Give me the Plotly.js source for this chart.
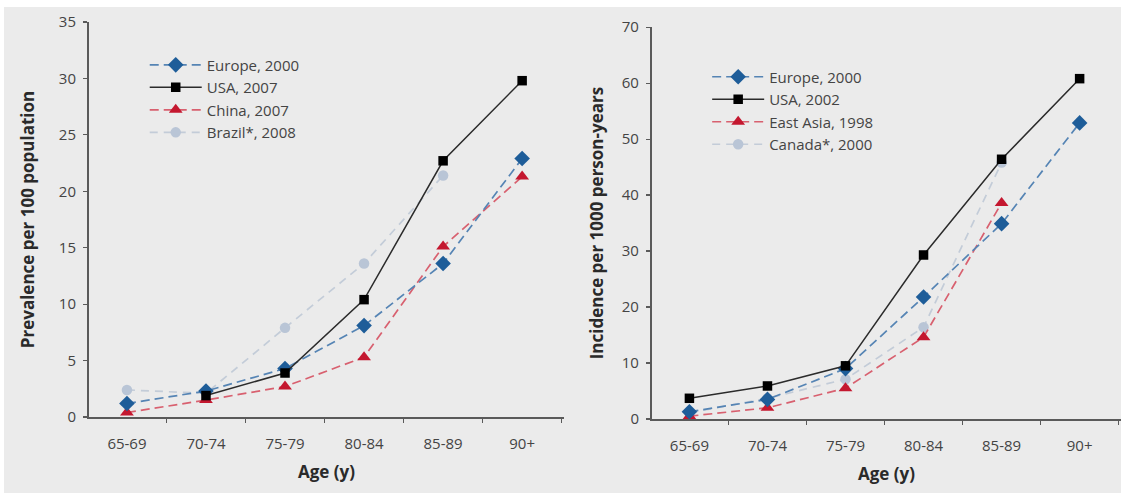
<!DOCTYPE html>
<html>
<head>
<meta charset="utf-8">
<script src="https://cdn.plot.ly/plotly-3.0.1.min.js"></script>
<style>
html,body{margin:0;padding:0;background:#ffffff;}
#chart{position:absolute;left:4px;top:7px;width:1117px;height:486px;}
</style>
</head>
<body>
<div id="chart"></div>
<script>
// Categories
var ageGroups = ["65-69", "70-74", "75-79", "80-84", "85-89", "90+"];

// Left panel: prevalence per 100 population
var prevEurope2000 = [1.2, 2.3, 4.3, 8.1, 13.6, 22.9];
var prevUSA2007    = [null, 1.9, 3.9, 10.4, 22.7, 29.8];
var prevChina2007  = [0.4, 1.5, 2.7, 5.3, 15.1, 21.3];
var prevBrazil2008 = [2.4, 2.1, 7.9, 13.6, 21.4, null];

// Right panel: incidence per 1000 person-years
var incEurope2000   = [1.3, 3.5, 9.0, 21.8, 34.9, 52.9];
var incUSA2002      = [3.7, 5.9, 9.5, 29.3, 46.4, 60.8];
var incEastAsia1998 = [0.5, 2.0, 5.5, 14.6, 38.6, null];
var incCanada2000   = [1.1, 3.7, 7.1, 16.4, 45.8, null];

var leftNames  = ["Europe, 2000", "USA, 2007", "China, 2007", "Brazil*, 2008"];
var rightNames = ["Europe, 2000", "USA, 2002", "East Asia, 1998", "Canada*, 2000"];

var styles = {
  europe: {line: {color: "#5584b4", width: 1.7, dash: "9px,5px"}, marker: {symbol: "diamond", size: 12, color: "#1e5d99"}},
  usa:    {line: {color: "#2b2b2b", width: 1.5, dash: "solid"}, marker: {symbol: "square", size: 9.5, color: "#000000"}},
  red:    {line: {color: "#d8606f", width: 1.7, dash: "9px,5px"}, marker: {symbol: "triangle-up", size: 12, color: "#c4172f"}},
  light:  {line: {color: "#c3ccd8", width: 1.7, dash: "8px,6px"}, marker: {symbol: "circle", size: 10.5, color: "#b9c5d6"}}
};

function tr(y, name, st, xa, ya, lg, rank) {
  return {
    x: ageGroups, y: y, name: name, type: "scatter", mode: "lines+markers",
    line: st.line, marker: st.marker, xaxis: xa, yaxis: ya, legend: lg,
    legendrank: rank, connectgaps: false, cliponaxis: false
  };
}

var data = [
  tr(prevBrazil2008, leftNames[3], styles.light, "x", "y", "legend", 4),
  tr(prevChina2007,  leftNames[2], styles.red,   "x", "y", "legend", 3),
  tr(prevEurope2000, leftNames[0], styles.europe,"x", "y", "legend", 1),
  tr(prevUSA2007,    leftNames[1], styles.usa,   "x", "y", "legend", 2),
  tr(incCanada2000,   rightNames[3], styles.light, "x2", "y2", "legend2", 4),
  tr(incEastAsia1998, rightNames[2], styles.red,   "x2", "y2", "legend2", 3),
  tr(incEurope2000,   rightNames[0], styles.europe,"x2", "y2", "legend2", 1),
  tr(incUSA2002,      rightNames[1], styles.usa,   "x2", "y2", "legend2", 2)
];

var tickFont = {family: "Open Sans, sans-serif", size: 15, color: "#444444"};
var titleFont = {family: "Open Sans, sans-serif", size: 17, color: "#2a2a2a", weight: "bold"};
var ytitleFont = {family: "Open Sans, sans-serif", size: 17, color: "#2a2a2a", weight: "bold"};

function xax(domain, anchor) {
  return {
    domain: domain, anchor: anchor, type: "category", range: [-0.48, 5.53],
    showline: true, linecolor: "#5a5a5a", linewidth: 2, showgrid: false, zeroline: false,
    ticks: "outside", ticklen: 4, tickwidth: 1.2, tickcolor: "#5a5a5a", tickson: "boundaries",
    tickfont: tickFont, ticklabelstandoff: 12,
    title: {text: "Age (y)", font: titleFont, standoff: 14}, automargin: false, fixedrange: true
  };
}
function yax(domain, anchor, range, dtick, title, standoff) {
  return {
    domain: domain, anchor: anchor, range: range, dtick: dtick, tick0: 0,
    showline: true, linecolor: "#5a5a5a", linewidth: 2, showgrid: false, zeroline: false,
    ticks: "outside", ticklen: 4, tickwidth: 1.2, tickcolor: "#5a5a5a",
    tickfont: tickFont, ticklabelstandoff: 4,
    title: {text: title, font: ytitleFont, standoff: standoff}, automargin: false, fixedrange: true
  };
}

var legendFont = {family: "Open Sans, sans-serif", size: 15, color: "#444444"};

var layout = {
  width: 1117, height: 486,
  margin: {l: 85, r: 0, t: 15, b: 74},
  paper_bgcolor: "#ebebeb", plot_bgcolor: "rgba(0,0,0,0)",
  showlegend: true,
  xaxis: xax([0, 0.4603], "y"),
  yaxis: yax([0.005, 1], "x", [0, 35], 5, "Prevalence per 100 population", 20),
  xaxis2: xax([0.5455, 1], "y2"),
  yaxis2: yax([0, 0.987], "x2", [0, 70], 10, "Incidence per 1000 person-years", 14),
  legend: {x: 0.054, y: 0.933, xanchor: "left", yanchor: "top", bgcolor: "rgba(0,0,0,0)",
           font: legendFont, itemwidth: 52, traceorder: "normal", tracegroupgap: 0},
  legend2: {x: 0.599, y: 0.903, xanchor: "left", yanchor: "top", bgcolor: "rgba(0,0,0,0)",
           font: legendFont, itemwidth: 52, traceorder: "normal", tracegroupgap: 0}
};

Plotly.newPlot("chart", data, layout, {displayModeBar: false, staticPlot: true});
</script>
</body>
</html>
